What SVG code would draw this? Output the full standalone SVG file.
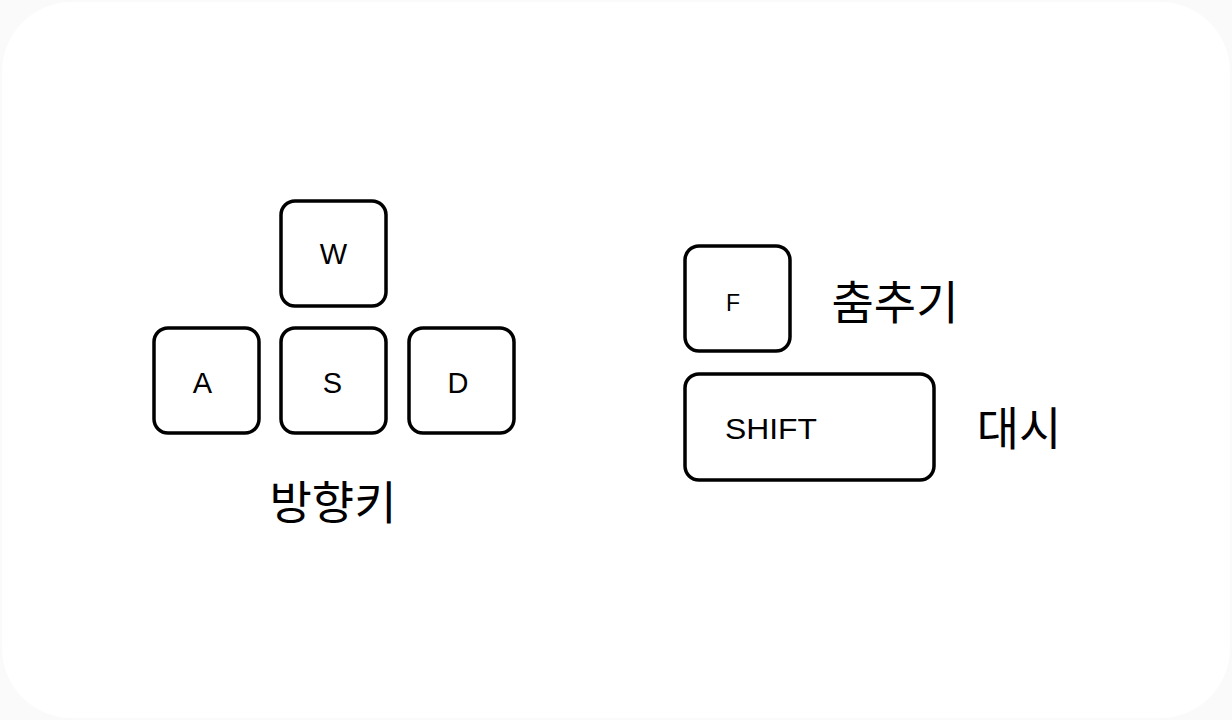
<svg xmlns="http://www.w3.org/2000/svg" width="1232" height="720" viewBox="0 0 1232 720">
<defs>
<style>
.key{fill:#ffffff;stroke:#000000;stroke-width:3.5;}
.kl{font-family:"Liberation Sans","DejaVu Sans",sans-serif;fill:#000000;text-anchor:middle;}
.lbl{font-family:"Noto Sans CJK KR","Noto Sans",sans-serif;fill:#000000;font-size:46px;font-weight:400;}
</style>
</defs>
<rect x="0" y="0" width="1232" height="720" fill="#fafafa"/>
<rect x="2" y="2" width="1228" height="716" rx="70" fill="#ffffff"/>
<g id="connectors"></g>
<g id="key-w">
<rect class="key" x="281" y="201" width="105" height="105" rx="14"/>
<text class="kl" x="333.5" y="264" font-size="29">W</text>
</g>
<g id="key-a">
<rect class="key" x="154" y="328" width="105" height="105" rx="14"/>
<text class="kl" x="202.5" y="393" font-size="29">A</text>
</g>
<g id="key-s">
<rect class="key" x="281" y="328" width="105" height="105" rx="14"/>
<text class="kl" x="332.5" y="393" font-size="29">S</text>
</g>
<g id="key-d">
<rect class="key" x="409" y="328" width="105" height="105" rx="14"/>
<text class="kl" x="458" y="393" font-size="29">D</text>
</g>
<g id="label-arrows">
<text class="lbl" x="333" y="519" text-anchor="middle">방향키</text>
</g>
<g id="key-f">
<rect class="key" x="685" y="246" width="105" height="105" rx="14"/>
<text class="kl" x="733" y="311" font-size="23">F</text>
</g>
<g id="label-dance">
<text class="lbl" x="895" y="319" text-anchor="middle">춤추기</text>
</g>
<g id="key-shift">
<rect class="key" x="685" y="374" width="249" height="106" rx="14"/>
<text class="kl" x="771" y="439" font-size="29" textLength="92" lengthAdjust="spacingAndGlyphs">SHIFT</text>
</g>
<g id="label-dash">
<text class="lbl" x="1019" y="445" text-anchor="middle">대시</text>
</g>
</svg>
